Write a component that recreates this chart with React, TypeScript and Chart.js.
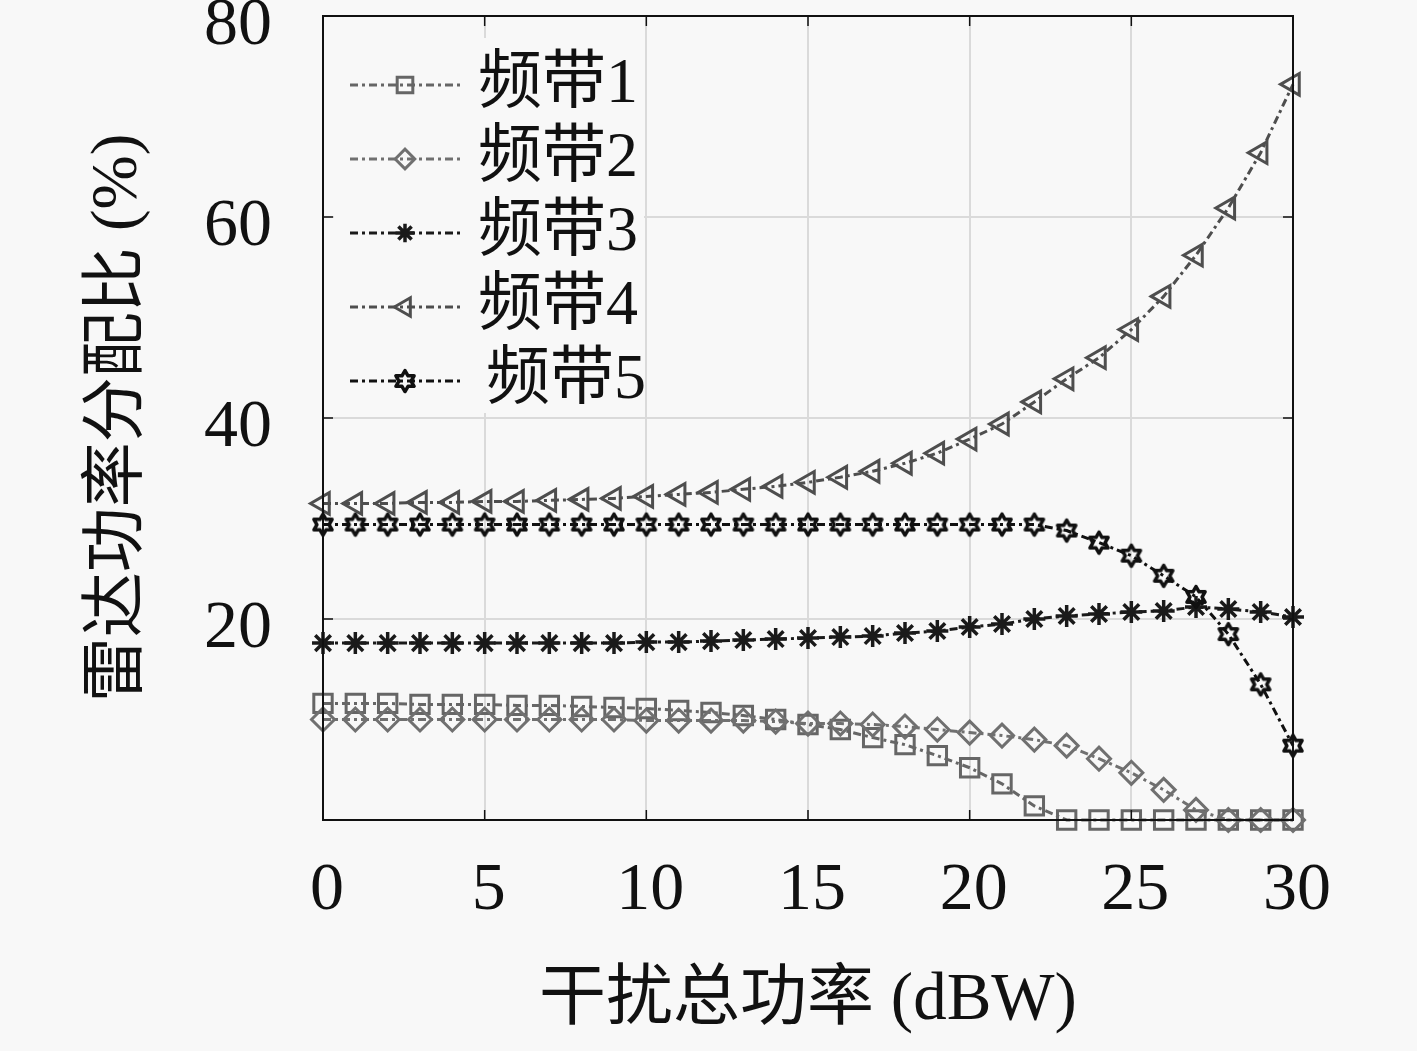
import React, { useEffect, useRef } from 'react';
import { Chart, registerables } from 'chart.js';
import { drawPoint } from 'chart.js/helpers';

Chart.register(...registerables);

// ---------------- data ----------------
const xValues = [0, 1, 2, 3, 4, 5, 6, 7, 8, 9, 10, 11, 12, 13, 14, 15, 16, 17, 18, 19, 20, 21, 22, 23, 24, 25, 26, 27, 28, 29, 30];
const band1 = [11.6, 11.6, 11.6, 11.5, 11.5, 11.5, 11.4, 11.4, 11.3, 11.2, 11.1, 10.9, 10.7, 10.4, 10.0, 9.5, 9.0, 8.2, 7.5, 6.4, 5.2, 3.6, 1.4, 0, 0, 0, 0, 0, 0, 0, 0];
const band2 = [10.0, 10.0, 10.0, 10.0, 10.0, 10.0, 10.0, 10.0, 10.0, 10.0, 9.9, 9.9, 9.9, 9.9, 9.8, 9.6, 9.6, 9.5, 9.3, 9.0, 8.7, 8.4, 8.0, 7.4, 6.1, 4.7, 3.0, 1.0, 0, 0, 0];
const band3 = [17.6, 17.6, 17.6, 17.6, 17.6, 17.6, 17.6, 17.6, 17.6, 17.6, 17.7, 17.7, 17.8, 17.9, 18.0, 18.1, 18.2, 18.3, 18.6, 18.8, 19.2, 19.5, 20.0, 20.3, 20.5, 20.7, 20.8, 21.2, 21.0, 20.7, 20.2];
const band4 = [31.5, 31.5, 31.5, 31.6, 31.6, 31.7, 31.7, 31.8, 31.9, 32.0, 32.2, 32.4, 32.6, 32.9, 33.2, 33.6, 34.1, 34.7, 35.5, 36.5, 37.9, 39.4, 41.6, 43.9, 46.0, 48.8, 52.1, 56.2, 60.9, 66.4, 73.2];
const band5 = [29.4, 29.4, 29.4, 29.4, 29.4, 29.4, 29.4, 29.4, 29.4, 29.4, 29.4, 29.4, 29.4, 29.4, 29.4, 29.4, 29.4, 29.4, 29.4, 29.4, 29.4, 29.4, 29.4, 28.8, 27.6, 26.3, 24.3, 22.2, 18.5, 13.5, 7.4];
const seriesLabels = ['频带1', '频带2', '频带3', '频带4', '频带5'];
const xTickLabels = ['0', '5', '10', '15', '20', '25', '30'];
const yTickLabels = ['', '20', '40', '60', '80'];
const xTitle = '干扰总功率 (dBW)';
const yTitle = '雷达功率分配比 (%)';

// ---------------- styles ----------------
const BG = '#f8f8f8';
const FONT_FAMILY = '"Liberation Serif", "Noto Sans CJK SC", serif';
const DASH = [8, 4, 3, 4];

function makeHexagram(color: string, R: number, lw: number) {
  const size = Math.ceil(R * 2 + lw * 2 + 4);
  const c = document.createElement('canvas');
  c.width = size;
  c.height = size;
  const ctx = c.getContext('2d') as CanvasRenderingContext2D;
  const cx = size / 2;
  const cy = size / 2;
  const r = R / Math.sqrt(3);
  ctx.beginPath();
  for (let k = 0; k < 12; k++) {
    const ang = -Math.PI / 2 + (k * Math.PI) / 6;
    const rad = k % 2 === 0 ? R : r;
    const px = cx + rad * Math.cos(ang);
    const py = cy + rad * Math.sin(ang);
    if (k === 0) ctx.moveTo(px, py);
    else ctx.lineTo(px, py);
  }
  ctx.closePath();
  ctx.strokeStyle = color;
  ctx.lineWidth = lw;
  ctx.lineJoin = 'round';
  ctx.stroke();
  return c;
}

const frameTicksPlugin = {
  id: 'frameTicks',
  afterDatasetsDraw(chart: any) {
    const { ctx, chartArea } = chart;
    const xs = chart.scales.x;
    const ys = chart.scales.y;
    const L = 10;
    ctx.save();
    ctx.strokeStyle = '#111';
    ctx.lineWidth = 2;
    ctx.setLineDash([]);
    ctx.strokeRect(chartArea.left, chartArea.top, chartArea.right - chartArea.left, chartArea.bottom - chartArea.top);
    ctx.lineWidth = 1.5;
    ctx.beginPath();
    xs.ticks.forEach((t: any) => {
      const px = xs.getPixelForValue(t.value);
      ctx.moveTo(px, chartArea.bottom);
      ctx.lineTo(px, chartArea.bottom - L);
      ctx.moveTo(px, chartArea.top);
      ctx.lineTo(px, chartArea.top + L);
    });
    ys.ticks.forEach((t: any) => {
      const py = ys.getPixelForValue(t.value);
      ctx.moveTo(chartArea.left, py);
      ctx.lineTo(chartArea.left + L, py);
      ctx.moveTo(chartArea.right, py);
      ctx.lineTo(chartArea.right - L, py);
    });
    ctx.stroke();
    ctx.restore();
  },
};

const legendPlugin = {
  id: 'lineLegend',
  afterDatasetsDraw(chart: any) {
    const { ctx } = chart;
    ctx.save();
    ctx.fillStyle = BG;
    ctx.fillRect(334, 38, 310, 375);
    chart.data.datasets.forEach((ds: any, i: number) => {
      const y = 85 + i * 74;
      ctx.save();
      ctx.strokeStyle = ds.borderColor;
      ctx.lineWidth = ds.borderWidth;
      ctx.setLineDash(ds.borderDash);
      ctx.beginPath();
      ctx.moveTo(350, y);
      ctx.lineTo(460, y);
      ctx.stroke();
      ctx.setLineDash([]);
      ctx.fillStyle = 'rgba(0,0,0,0)';
      ctx.strokeStyle = ds.pointBorderColor;
      ctx.lineWidth = ds.pointBorderWidth;
      drawPoint(ctx, { pointStyle: ds.pointStyle, radius: ds.pointRadius * 0.85, rotation: ds.pointRotation || 0, borderWidth: ds.pointBorderWidth }, 405, y);
      ctx.restore();
      ctx.fillStyle = '#111';
      ctx.font = `64px ${FONT_FAMILY}`;
      ctx.textAlign = 'left';
      ctx.textBaseline = 'middle';
      ctx.fillText(ds.label, i === 4 ? 486 : 478, y);
    });
    ctx.restore();
  },
};

export default function App() {
  const ref = useRef<HTMLCanvasElement | null>(null);

  useEffect(() => {
    const canvas = ref.current;
    if (!canvas) return;
    const hex = makeHexagram('#111111', 10.5, 3.5);
    const styles = [
      { color: '#666666', pointStyle: 'rect', radius: 13, rotation: 0, width: 3 },
      { color: '#707070', pointStyle: 'rectRot', radius: 11.5, rotation: 0, width: 3 },
      { color: '#1a1a1a', pointStyle: 'star', radius: 11, rotation: 0, width: 3.5 },
      { color: '#4e4e4e', pointStyle: 'triangle', radius: 12.5, rotation: -90, width: 3 },
      { color: '#111111', pointStyle: hex, radius: 11, rotation: 0, width: 3 },
    ];
    const bands = [band1, band2, band3, band4, band5];
    const datasets = bands.map((b, i) => ({
      label: seriesLabels[i],
      data: xValues.map((x, j) => ({ x, y: b[j] })),
      borderColor: styles[i].color,
      borderWidth: 3,
      borderDash: DASH,
      pointStyle: styles[i].pointStyle as any,
      pointRadius: styles[i].radius,
      pointRotation: styles[i].rotation,
      pointBorderColor: styles[i].color,
      pointBackgroundColor: 'rgba(0,0,0,0)',
      pointBorderWidth: styles[i].width,
      tension: 0,
      clip: false as any,
      order: 4 - i,
    }));

    const chart = new Chart(canvas, {
      type: 'line',
      data: { datasets },
      options: {
        animation: false,
        responsive: true,
        maintainAspectRatio: false,
        layout: { padding: { left: 0, top: 14, right: 124, bottom: 0 } },
        plugins: { legend: { display: false }, tooltip: { enabled: false } },
        scales: {
          x: {
            type: 'linear',
            min: 0,
            max: 30,
            ticks: {
              stepSize: 5,
              padding: 30,
              labelOffset: 4,
              color: '#111',
              font: { family: FONT_FAMILY, size: 68 },
              maxRotation: 0,
              autoSkip: false,
              callback: (_v: any, idx: number) => xTickLabels[idx],
            },
            grid: { color: '#dadada', lineWidth: 2, drawTicks: false },
            border: { display: false },
            title: {
              display: true,
              text: xTitle,
              color: '#111',
              font: { family: FONT_FAMILY, size: 67 },
              padding: { top: 0, bottom: 9 },
            },
            afterFit: (s: any) => {
              s.height = 231;
              s.paddingLeft = 0;
              s.paddingRight = 0;
            },
          },
          y: {
            type: 'linear',
            min: 0,
            max: 80,
            ticks: {
              stepSize: 20,
              padding: 51,
              labelOffset: 10,
              color: '#111',
              font: { family: FONT_FAMILY, size: 68 },
              autoSkip: false,
              callback: (_v: any, idx: number) => yTickLabels[idx],
            },
            grid: { color: '#dadada', lineWidth: 2, drawTicks: false },
            border: { display: false },
            title: {
              display: true,
              text: yTitle,
              color: '#111',
              font: { family: FONT_FAMILY, size: 65 },
              padding: { top: 80, bottom: 0 },
            },
            afterFit: (s: any) => {
              s.width = 323;
              s.paddingTop = 0;
              s.paddingBottom = 0;
            },
          },
        },
      },
      plugins: [frameTicksPlugin, legendPlugin],
    });
    return () => chart.destroy();
  }, []);

  return (
    <div style={{ position: 'fixed', left: 0, top: 0, width: 1417, height: 1051, background: BG }}>
      <canvas ref={ref} />
    </div>
  );
}
